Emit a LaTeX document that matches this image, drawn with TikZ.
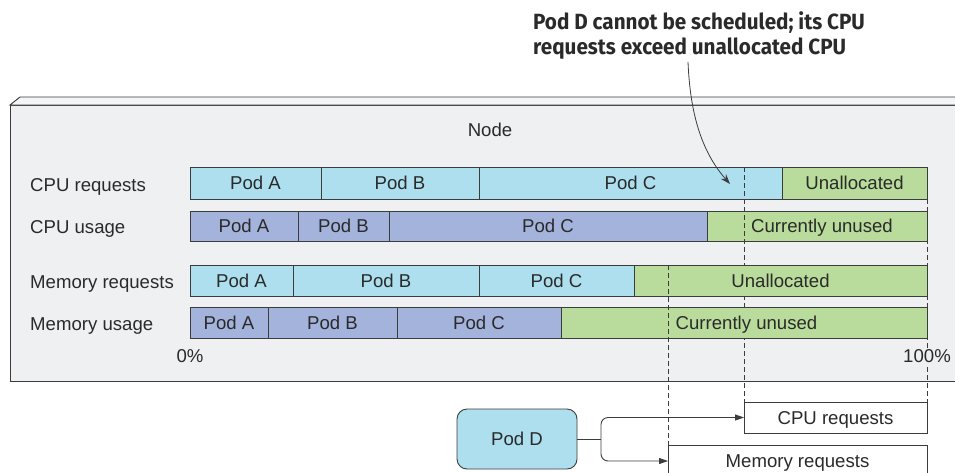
\documentclass[tikz,border=0pt]{standalone}
\usepackage{fontspec}
\setmainfont{Liberation Sans}
\newfontfamily\annotfont[FakeStretch=0.94]{Fira Sans}
\usetikzlibrary{arrows.meta}
\definecolor{nodebg}{HTML}{EFF0F2}
\definecolor{bevel}{HTML}{F4F5F6}
\definecolor{reqblue}{HTML}{ADDFEF}
\definecolor{usepurple}{HTML}{A3B3DB}
\definecolor{freegreen}{HTML}{B9DC9C}
\definecolor{linec}{HTML}{3C3C3C}
\definecolor{textc}{HTML}{2A2A2A}
\newcommand\segm[7]{\node[seg, fill=#6, minimum width={(#3-#2)*1pt}, minimum height={(#5-#4)*1pt}] (#1) at ({(#2+#3)/2},{(#4+#5)/2}) {#7};}
\begin{document}
\begin{tikzpicture}[x=1pt,y=-1pt,
  txt/.style={font=\fontsize{18.6}{20}\selectfont, text=textc, text height=13.3pt, text depth=0pt},
  seg/.style={txt, draw=linec, line width=0.9pt, inner sep=0pt, outer sep=0pt},
  lbl/.style={txt, inner sep=0pt},
  dsh/.style={draw=linec, line width=0.9pt, dash pattern=on 5pt off 3pt},
  arr/.style={-{Triangle[length=9pt,width=6pt]}, draw=linec, line width=0.9pt},
  box/.style={txt, draw=linec, line width=0.9pt, fill=white, inner sep=0pt, outer sep=0pt}]
\useasboundingbox (0,0) rectangle (955,472);
% node box
\filldraw[fill=nodebg, draw=linec, line width=0.9pt] (970,105) -- (10,105) -- (10,381) -- (970,381);
\filldraw[fill=bevel, draw=linec, line width=0.9pt] (970,97) -- (20,97) -- (10,105) -- (970,105);
\node[lbl] (nodetitle) at (490,130) {Node};
% row labels
\node[lbl, anchor=west] (l1) at (30,185) {CPU requests};
\node[lbl, anchor=west] (l2) at (30,227) {CPU usage};
\node[lbl, anchor=west] (l3) at (30,282) {Memory requests};
\node[lbl, anchor=west] (l4) at (30,324) {Memory usage};
% boxes below
\node[box, minimum width=183pt, minimum height=31pt] (cpubox) at (835.5,417.5) {CPU requests};
\node[box, minimum width=259pt, minimum height=32pt] (membox) at (797.5,461) {Memory requests};
% dashed right edge
\coordinate (r100) at (927,167);
\draw[dsh] (r100) -- (cpubox.north east);
% CPU bars
\segm{cA}{190}{321}{167}{199}{reqblue}{Pod A}
\segm{cB}{321}{479}{167}{199}{reqblue}{Pod B}
\segm{cC}{479}{782}{167}{199}{reqblue}{Pod C}
\segm{cU}{782}{927}{167}{199}{freegreen}{Unallocated}
\segm{uA}{190}{298}{211}{241}{usepurple}{Pod A}
\segm{uB}{298}{389}{211}{241}{usepurple}{Pod B}
\segm{uC}{389}{707}{211}{241}{usepurple}{Pod C}
\segm{uU}{707}{927}{211}{241}{freegreen}{\hspace*{10pt}Currently unused}
% CPU marker (drawn over CPU rows, under memory rows)
\coordinate (cpumark) at (744,167);
\draw[dsh] (cpumark) -- (cpubox.north west);
% memory bars
\segm{mA}{190}{293}{265}{296}{reqblue}{Pod A}
\segm{mB}{293}{479}{265}{296}{reqblue}{Pod B}
\segm{mC}{479}{634}{265}{296}{reqblue}{Pod C}
\segm{mU}{634}{927}{265}{296}{freegreen}{Unallocated}
\segm{nA}{190}{268}{307}{338}{usepurple}{Pod A}
\segm{nB}{268}{397}{307}{338}{usepurple}{Pod B}
\segm{nC}{397}{561}{307}{338}{usepurple}{Pod C}
\segm{nU}{561}{927}{307}{338}{freegreen}{\hspace*{5pt}Currently unused}
% memory marker
\coordinate (memmark) at (668,265);
\draw[dsh] (memmark) -- (membox.north west);
% percent labels
\node[lbl, fill=nodebg, inner sep=1pt] (p0) at (190,356) {0\%};
\node[lbl, fill=nodebg, inner sep=1pt] (p100) at (927,356) {100\%};
% Pod D
\node[txt, draw=linec, line width=0.9pt, fill=reqblue, rounded corners=10pt, minimum width=120pt, minimum height=60pt, inner sep=0pt] (podD) at (517,439) {Pod D};
\coordinate (junc) at (601,439);
\draw[draw=linec, line width=0.9pt] (podD.east) -- (junc);
\draw[arr, rounded corners=7pt] (junc) |- (cpubox.west);
\draw[arr, rounded corners=7pt] (junc) |- (membox.west);
% annotation
\node[anchor=north west, align=left, inner sep=0pt, text=textc, font=\annotfont\bfseries\fontsize{22}{25}\selectfont] (annot) at (533,11) {Pod D cannot be scheduled; its CPU\\requests exceed unallocated CPU};
\coordinate (astart) at (688,62);
\coordinate (aend) at (730,184);
\draw[arr, line width=0.8pt, -{Stealth[length=10pt,width=7pt]}] (astart) .. controls (690,110) and (700,150) .. (aend);
\end{tikzpicture}
\end{document}
